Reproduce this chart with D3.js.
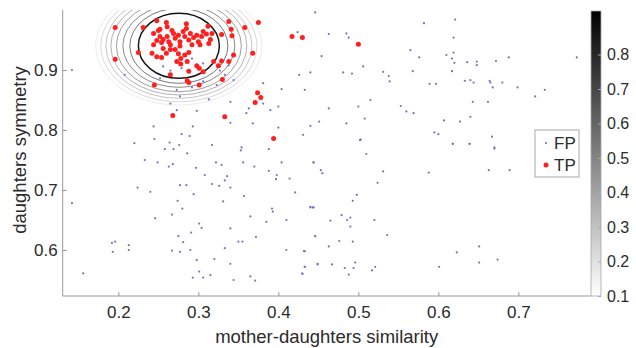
<!DOCTYPE html>
<html><head><meta charset="utf-8">
<script src="https://cdn.jsdelivr.net/npm/d3@7"></script>
<style>
html,body{margin:0;padding:0;background:#fff;}
svg{display:block;font-family:"Liberation Sans",Arial,sans-serif;}
</style></head>
<body>
<svg id="chart" width="636" height="348"></svg>
<script>
// ---- data ----
const xTicks = [0.2, 0.3, 0.4, 0.5, 0.6, 0.7];
const yTicks = [0.6, 0.7, 0.8, 0.9];
const cbTicks = [0.1, 0.2, 0.3, 0.4, 0.5, 0.6, 0.7, 0.8];
const cbRange = [0.1, 0.926];
const contourCenter = [0.2756, 0.9403];
const contourLevels = [0.9, 0.8, 0.7, 0.6, 0.5, 0.4, 0.3, 0.2];
const contourRx = [0.0506, 0.0613, 0.0700, 0.0781, 0.0850, 0.0913, 0.0975, 0.1038];
const contourRy = [0.0542, 0.0625, 0.0692, 0.0765, 0.0820, 0.0875, 0.0932, 0.0987];

const tpPoints = [
[0.196,0.971],[0.196,0.918],[0.231,0.971],[0.225,0.929],[0.248,0.982],[0.260,0.979],[0.261,0.972],
[0.285,0.977],[0.285,0.969],[0.312,0.973],[0.338,0.981],[0.341,0.968],[0.358,0.971],[0.375,0.979],
[0.329,0.959],[0.342,0.957],[0.368,0.928],[0.344,0.925],[0.338,0.914],[0.329,0.915],[0.319,0.914],
[0.325,0.907],[0.306,0.897],[0.301,0.903],[0.298,0.907],[0.288,0.898],[0.265,0.892],[0.286,0.882],
[0.288,0.879],[0.301,0.875],[0.330,0.884],[0.245,0.875],[0.374,0.862],[0.378,0.854],[0.371,0.846],
[0.268,0.824],[0.333,0.822],
[0.244,0.961],[0.250,0.966],[0.252,0.956],[0.256,0.951],[0.248,0.949],[0.254,0.946],[0.261,0.956],
[0.263,0.947],[0.265,0.942],[0.269,0.961],[0.271,0.953],[0.275,0.958],[0.277,0.947],[0.281,0.964],
[0.283,0.956],[0.288,0.950],[0.290,0.961],[0.294,0.954],[0.298,0.958],[0.300,0.947],[0.304,0.956],
[0.310,0.960],[0.315,0.951],[0.313,0.944],[0.302,0.942],[0.292,0.942],[0.277,0.940],[0.242,0.928],
[0.248,0.922],[0.254,0.921],[0.260,0.928],[0.265,0.934],[0.271,0.934],[0.275,0.927],[0.278,0.919],
[0.283,0.925],[0.288,0.929],[0.273,0.914],[0.278,0.910],[0.286,0.914],[0.252,0.968],[0.267,0.966],
[0.244,0.942],[0.256,0.936],[0.306,0.964],[0.317,0.961],
[0.417,0.956],[0.430,0.954],[0.500,0.943],[0.394,0.786]
];

const fpPoints = [
[0.142,0.900],[0.256,0.906],[0.265,0.899],[0.208,0.892],[0.252,0.886],[0.292,0.919],[0.279,0.903],
[0.306,0.911],[0.338,0.908],[0.327,0.899],[0.333,0.892],[0.306,0.881],[0.323,0.875],[0.273,0.867],
[0.292,0.871],[0.344,0.883],[0.381,0.878],[0.381,0.844],[0.363,0.836],[0.340,0.847],[0.313,0.851],
[0.277,0.856],[0.265,0.844],[0.273,0.833],[0.298,0.832],[0.360,0.828],[0.390,0.833],
[0.446,0.996],[0.582,0.978],[0.621,0.984],[0.424,0.963],[0.463,0.960],[0.485,0.961],[0.488,0.954],
[0.619,0.954],[0.454,0.923],[0.565,0.933],[0.576,0.921],[0.610,0.925],[0.617,0.919],[0.619,0.929],
[0.620,0.912],[0.636,0.913],[0.648,0.914],[0.648,0.908],[0.672,0.915],[0.688,0.921],[0.773,0.921],
[0.426,0.892],[0.440,0.896],[0.481,0.896],[0.492,0.894],[0.506,0.906],[0.531,0.897],[0.538,0.890],
[0.539,0.881],[0.568,0.898],[0.589,0.877],[0.597,0.877],[0.617,0.898],[0.633,0.882],[0.640,0.883],
[0.644,0.879],[0.664,0.882],[0.665,0.879],[0.668,0.871],[0.680,0.879],[0.699,0.871],[0.721,0.856],
[0.733,0.867],[0.404,0.868],[0.433,0.867],[0.400,0.839],[0.463,0.836],[0.500,0.839],[0.515,0.850],
[0.553,0.840],[0.560,0.831],[0.569,0.828],[0.643,0.847],[0.662,0.847],[0.640,0.822],[0.400,0.804],
[0.440,0.807],[0.451,0.814],[0.485,0.811],[0.508,0.819],[0.607,0.816],[0.627,0.814],[0.431,0.792],
[0.503,0.784],[0.595,0.796],[0.600,0.793],[0.618,0.777],[0.639,0.777],[0.667,0.789],[0.670,0.771],
[0.244,0.806],[0.293,0.806],[0.340,0.812],[0.368,0.811],[0.220,0.778],[0.245,0.785],[0.264,0.779],
[0.276,0.775],[0.279,0.793],[0.289,0.790],[0.317,0.775],[0.354,0.771],[0.353,0.766],[0.258,0.768],
[0.269,0.768],[0.286,0.761],[0.388,0.768],[0.233,0.750],[0.249,0.746],[0.263,0.739],[0.268,0.743],
[0.297,0.737],[0.322,0.746],[0.329,0.742],[0.356,0.746],[0.370,0.739],[0.388,0.732],[0.404,0.746],
[0.398,0.725],[0.397,0.718],[0.444,0.746],[0.308,0.725],[0.336,0.723],[0.333,0.716],[0.414,0.719],
[0.317,0.710],[0.326,0.707],[0.340,0.704],[0.277,0.708],[0.285,0.708],[0.224,0.704],[0.240,0.697],
[0.294,0.693],[0.357,0.690],[0.421,0.696],[0.142,0.678],[0.274,0.682],[0.280,0.669],[0.331,0.681],
[0.392,0.669],[0.393,0.664],[0.440,0.671],[0.444,0.671],[0.365,0.656],[0.246,0.653],[0.267,0.659],
[0.385,0.647],[0.410,0.650],[0.301,0.644],[0.304,0.637],[0.340,0.636],[0.275,0.623],[0.291,0.629],
[0.372,0.622],[0.446,0.623],[0.281,0.613],[0.192,0.612],[0.196,0.614],[0.193,0.597],[0.213,0.608],
[0.213,0.600],[0.267,0.599],[0.277,0.597],[0.290,0.600],[0.333,0.603],[0.350,0.614],[0.355,0.614],
[0.410,0.600],[0.433,0.598],[0.298,0.583],[0.320,0.585],[0.340,0.577],[0.433,0.572],[0.449,0.577],
[0.156,0.561],[0.301,0.564],[0.315,0.558],[0.293,0.554],[0.306,0.554],[0.344,0.550],[0.365,0.556],
[0.371,0.549],[0.430,0.560],
[0.502,0.783],[0.510,0.760],[0.618,0.777],[0.639,0.777],[0.670,0.769],[0.444,0.746],[0.453,0.733],
[0.455,0.728],[0.531,0.731],[0.588,0.729],[0.663,0.733],[0.689,0.733],[0.524,0.712],[0.498,0.692],
[0.493,0.682],[0.440,0.672],[0.443,0.671],[0.479,0.658],[0.486,0.650],[0.490,0.654],[0.465,0.649],
[0.520,0.650],[0.490,0.639],[0.446,0.623],[0.536,0.625],[0.463,0.606],[0.476,0.615],[0.493,0.614],
[0.432,0.598],[0.623,0.596],[0.651,0.606],[0.674,0.584],[0.449,0.576],[0.467,0.576],[0.496,0.579],
[0.483,0.570],[0.494,0.570],[0.433,0.572],[0.521,0.572],[0.517,0.566],[0.488,0.559],[0.430,0.561],
[0.601,0.572],[0.651,0.579]
];

// ---- layout ----
const svg = d3.select("#chart");
const L = 62.7, R = 590.7, T = 10, B = 296;
const x = d3.scaleLinear().domain([0.1304, 0.7904]).range([L, R]);
const y = d3.scaleLinear().domain([0.5233, 1.0]).range([B, T]);
const gray = d3.scaleLinear().domain(cbRange).range(["#ffffff", "#000000"]);
const txt = "#2b2b2b", axc = "#9a9a9a";
const fpCol = "#7a70c8", tpCol = "#ff1f1f";

svg.append("defs").append("clipPath").attr("id","plotclip")
  .append("rect").attr("x",L).attr("y",T).attr("width",R-L).attr("height",B-T);

// contours
const cg = svg.append("g").attr("clip-path","url(#plotclip)");
cg.selectAll("ellipse").data(contourLevels.map((lv,i)=>({lv, rx:contourRx[i], ry:contourRy[i]})).reverse())
  .join("ellipse")
  .attr("cx", x(contourCenter[0])).attr("cy", y(contourCenter[1]))
  .attr("rx", d => x(contourCenter[0]+d.rx) - x(contourCenter[0]))
  .attr("ry", d => y(contourCenter[1]-d.ry) - y(contourCenter[1]))
  .attr("fill","none").attr("stroke", d => gray(d.lv))
  .attr("stroke-opacity", d => d.lv >= 0.9 ? 0.95 : 0.75)
  .attr("stroke-width", d => d.lv >= 0.9 ? 1.5 : 0.85);

// points
const pg = svg.append("g").attr("clip-path","url(#plotclip)");
pg.selectAll("circle.fp").data(fpPoints).join("circle").attr("class","fp")
  .attr("cx", d=>x(d[0])).attr("cy", d=>y(d[1])).attr("r",1.1).attr("fill",fpCol);
pg.selectAll("circle.tp").data(tpPoints).join("circle").attr("class","tp")
  .attr("cx", d=>x(d[0])).attr("cy", d=>y(d[1])).attr("r",2.5).attr("fill",tpCol);

// axes
const xAxis = d3.axisBottom(x).tickValues(xTicks).tickSize(-4).tickPadding(10).tickFormat(d3.format(".1f"));
const yAxis = d3.axisLeft(y).tickValues(yTicks).tickSize(-4).tickPadding(5).tickFormat(d3.format(".1f"));
const gx = svg.append("g").attr("transform",`translate(0,${B})`).call(xAxis);
const gy = svg.append("g").attr("transform",`translate(${L},0)`).call(yAxis);
[gx, gy].forEach(g => {
  g.select(".domain").remove();
  g.selectAll(".tick line").attr("stroke", axc);
  g.selectAll(".tick text").attr("fill", txt).style("font-size","17px").style("font-family","Liberation Sans, Arial, sans-serif");
});
svg.append("line").attr("x1",L).attr("x2",L).attr("y1",T).attr("y2",B).attr("stroke",axc);
svg.append("line").attr("x1",L).attr("x2",R).attr("y1",B).attr("y2",B).attr("stroke",axc);

// axis labels
svg.append("text").attr("x",(L+R)/2).attr("y",343).attr("text-anchor","middle")
  .attr("fill",txt).style("font-size","18.5px").text("mother-daughters similarity");
svg.append("text").attr("transform","translate(26,150) rotate(-90)").attr("text-anchor","middle")
  .attr("fill",txt).style("font-size","18.5px").text("daughters symmetry");

// legend
const lg = svg.append("g");
lg.append("rect").attr("x",535).attr("y",130).attr("width",44).attr("height",47)
  .attr("fill","#fff").attr("stroke","#a8a8a8");
lg.append("circle").attr("cx",546).attr("cy",143).attr("r",1.1).attr("fill",fpCol);
lg.append("circle").attr("cx",546).attr("cy",165).attr("r",2.5).attr("fill",tpCol);
lg.append("text").attr("x",554).attr("y",149).attr("fill",txt).style("font-size","17px").text("FP");
lg.append("text").attr("x",554).attr("y",171).attr("fill",txt).style("font-size","17px").text("TP");

// colorbar
const cb = d3.scaleLinear().domain(cbRange).range([B, 11]);
const grad = svg.select("defs").append("linearGradient").attr("id","cbgrad")
  .attr("x1","0").attr("y1","1").attr("x2","0").attr("y2","0");
grad.selectAll("stop").data(d3.range(0,1.0001,0.1)).join("stop")
  .attr("offset", d=>d).attr("stop-color", d=>gray(cbRange[0]+d*(cbRange[1]-cbRange[0])));
const cbL = 591, cbW = 10;
svg.append("rect").attr("x",cbL).attr("y",cb(cbRange[1])).attr("width",cbW).attr("height",B-cb(cbRange[1]))
  .attr("fill","url(#cbgrad)").attr("stroke","#a8a8a8").attr("stroke-width",0.8);
const cbAxis = d3.axisRight(cb).tickValues(cbTicks).tickSize(-3).tickPadding(6).tickFormat(d3.format(".1f"));
const gcb = svg.append("g").attr("transform",`translate(${cbL+cbW},0)`).call(cbAxis);
gcb.select(".domain").remove();
gcb.selectAll(".tick line").attr("stroke","#a8a8a8");
gcb.selectAll(".tick text").attr("fill",txt).style("font-size","16px").style("font-family","Liberation Sans, Arial, sans-serif");
</script>
</body></html>
